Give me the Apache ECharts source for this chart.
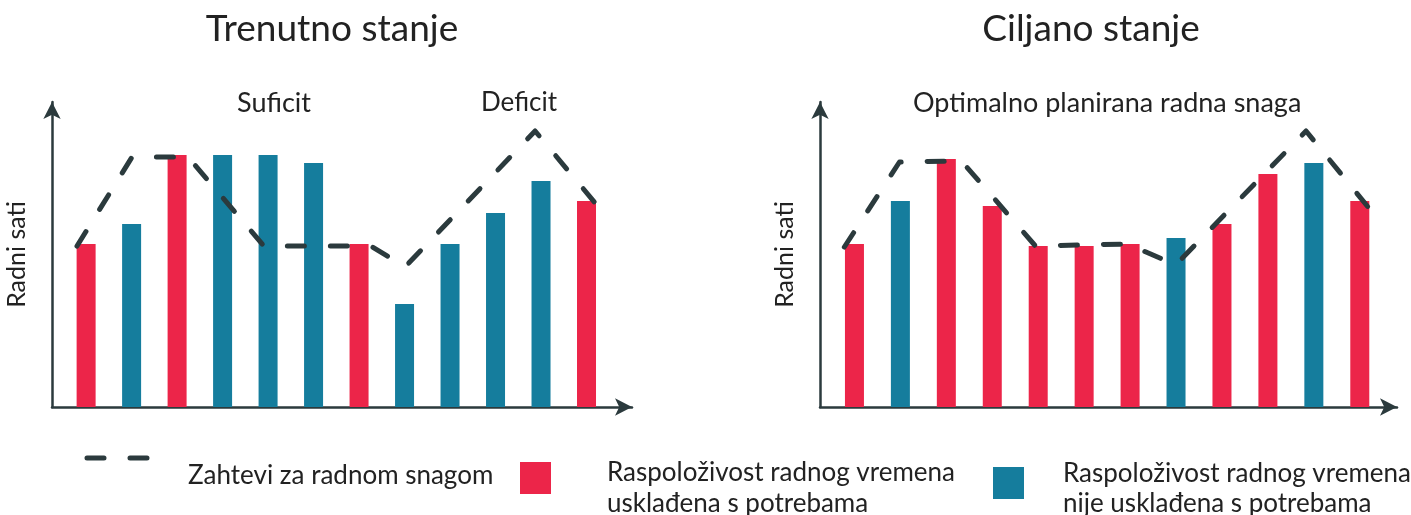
<!DOCTYPE html>
<html>
<head>
<meta charset="utf-8">
<script src="https://cdn.jsdelivr.net/npm/echarts@6/dist/echarts.min.js"></script>
<style>
html,body{margin:0;padding:0;background:#fff;}
#chart{width:1411px;height:515px;}
</style>
</head>
<body>
<div id="chart"></div>
<script>
// ---------- DATA ----------
const titles = ['Trenutno stanje', 'Ciljano stanje'];
const yAxisName = 'Radni sati';
const annotationsLeft = ['Suficit', 'Deficit'];
const annotationRight = 'Optimalno planirana radna snaga';
const legendLabels = ['Zahtevi za radnom snagom',
  'Raspoloživost radnog vremena\nusklađena s potrebama',
  'Raspoloživost radnog vremena\nnije usklađena s potrebama'];

// bar heights (arbitrary hour units), 12 periods
const leftBars    = [163, 183, 252, 252, 252, 244, 163, 103, 163, 194, 226, 206];
const leftAligned = [1, 0, 1, 0, 0, 0, 1, 0, 0, 0, 0, 1];
const rightBars    = [163, 206, 248, 201, 161, 161, 163, 169, 183, 233, 244, 206];
const rightAligned = [1, 0, 1, 1, 1, 1, 1, 0, 1, 1, 0, 1];

// demand line (x in period units, y in hour units)
const leftDemandX  = [-0.2, 1.01, 2.24, 3.91, 6.26, 7.01, 9.87, 11.19];
const leftDemandY  = [161, 250, 250, 161, 161, 140, 276, 204];
const rightDemandX = [-0.22, 0.98, 2.33, 3.94, 5.95, 6.99, 9.83, 11.18];
const rightDemandY = [160, 245, 246, 161, 163, 142, 276, 200];

// ---------- STYLE ----------
const RED = '#EC2549', TEAL = '#157D9D', DARK = '#2B3A3D', TXT = '#222222';
const FONT = 'Lato';

const chart = echarts.init(document.getElementById('chart'));

function barData(vals, aligned) {
  return vals.map((v, i) => ({ value: [i, v], itemStyle: { color: aligned[i] ? RED : TEAL } }));
}
function lineData(xs, ys) { return xs.map((x, i) => [x, ys[i]]); }

const dashStyle = { color: DARK, width: 5, type: [17, 26], cap: 'round', join: 'round' };

function xAx(gi, max) {
  return {
    type: 'value', gridIndex: gi, min: -0.75, max: max,
    axisLine: { show: true, onZero: false, lineStyle: { color: DARK, width: 2.5 }, symbol: ['none', 'arrow'], symbolSize: [13, 17] },
    axisTick: { show: false }, axisLabel: { show: false }, splitLine: { show: false }
  };
}
function yAx(gi) {
  return {
    type: 'value', gridIndex: gi, min: 0, max: 305,
    name: yAxisName, nameLocation: 'middle', nameRotate: 90, nameGap: 23,
    nameTextStyle: { fontFamily: FONT, fontSize: 25, color: TXT },
    axisLine: { show: true, onZero: false, lineStyle: { color: DARK, width: 2.5 }, symbol: ['none', 'arrow'], symbolSize: [13, 17] },
    axisTick: { show: false }, axisLabel: { show: false }, splitLine: { show: false }
  };
}

const option = {
  animation: false,
  backgroundColor: '#fff',
  title: [
    { text: titles[0], left: 327, top: 6, textAlign: 'center',
      textStyle: { fontFamily: FONT, fontWeight: 'normal', fontSize: 37, color: TXT } },
    { text: titles[1], left: 1086, top: 6, textAlign: 'center',
      textStyle: { fontFamily: FONT, fontWeight: 'normal', fontSize: 37, color: TXT } }
  ],
  grid: [
    { left: 52, width: 580, top: 102, height: 305 },
    { left: 820, width: 577, top: 102, height: 305 }
  ],
  xAxis: [xAx(0, 12), xAx(1, 11.81)],
  yAxis: [yAx(0), yAx(1)],
  series: [
    { type: 'bar', xAxisIndex: 0, yAxisIndex: 0, barWidth: 19, data: barData(leftBars, leftAligned) },
    { type: 'line', xAxisIndex: 0, yAxisIndex: 0, symbol: 'none', z: 5, lineStyle: dashStyle,
      data: lineData(leftDemandX, leftDemandY) },
    { type: 'bar', xAxisIndex: 1, yAxisIndex: 1, barWidth: 19, data: barData(rightBars, rightAligned) },
    { type: 'line', xAxisIndex: 1, yAxisIndex: 1, symbol: 'none', z: 5, lineStyle: dashStyle,
      data: lineData(rightDemandX, rightDemandY) }
  ],
  graphic: [
    { type: 'text', left: 237, top: 90, style: { text: annotationsLeft[0], font: '27px ' + FONT, fill: TXT } },
    { type: 'text', left: 481, top: 90, style: { text: annotationsLeft[1], font: '26px ' + FONT, fill: TXT } },
    { type: 'text', left: 913, top: 90, style: { text: annotationRight, font: '27px ' + FONT, fill: TXT } },
    // legend
    { type: 'line', shape: { x1: 87, y1: 458, x2: 150, y2: 458 },
      style: { stroke: DARK, lineWidth: 5, lineDash: [17, 26], lineCap: 'round' } },
    { type: 'text', left: 188, top: 463, style: { text: legendLabels[0], font: '26px ' + FONT, fill: TXT } },
    { type: 'rect', shape: { x: 520, y: 462, width: 31, height: 32 }, style: { fill: RED } },
    { type: 'text', left: 607, top: 457, style: { text: legendLabels[1], font: '26px ' + FONT, fill: TXT, lineHeight: 31 } },
    { type: 'rect', shape: { x: 993, y: 467, width: 31, height: 32 }, style: { fill: TEAL } },
    { type: 'text', left: 1063, top: 459, style: { text: legendLabels[2], font: '26px ' + FONT, fill: TXT, lineHeight: 30 } }
  ]
};
chart.setOption(option);
</script>
</body>
</html>
